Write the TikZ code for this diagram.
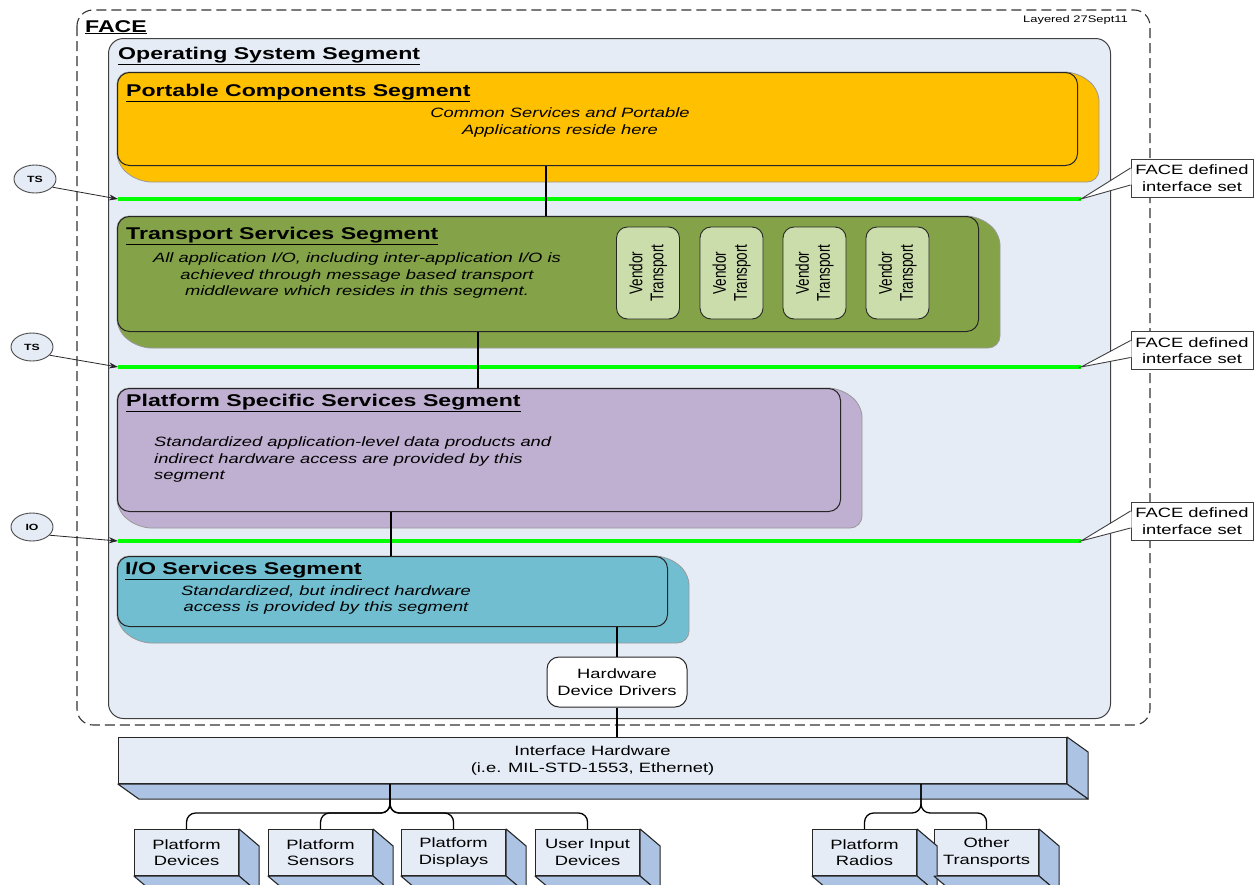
\documentclass[tikz,border=0pt]{standalone}
\usepackage{fontspec}
\setmainfont{Liberation Sans}[FakeStretch=1.36]
\newfontfamily\vfontfam{Liberation Sans}[FakeStretch=0.735]
\usetikzlibrary{arrows.meta,calc,shapes.geometric}
\definecolor{osfill}{RGB}{230,236,246}
\definecolor{orangeseg}{RGB}{255,192,0}
\definecolor{greenseg}{RGB}{132,163,72}
\definecolor{vendfill}{RGB}{204,221,172}
\definecolor{purpseg}{RGB}{191,175,208}
\definecolor{tealseg}{RGB}{113,190,209}
\definecolor{boxfront}{RGB}{229,236,246}
\definecolor{boxside}{RGB}{173,195,227}
\definecolor{ifline}{RGB}{0,255,0}
\newcommand{\mytitle}{\fontsize{17}{20}\selectfont\bfseries}
\newcommand{\mytext}{\fontsize{13.5}{16.5}\selectfont}
\newcommand{\myital}{\fontsize{13.5}{16.5}\selectfont\itshape}
\newcommand{\vendfont}{\vfontfam\fontsize{18.4}{21}\selectfont}
\newcommand{\backshape}[5]{\filldraw[fill=#5, draw=black!40, line width=0.8pt, rounded corners=12pt] (#1,#2) -- (#3,#2) -- (#3+22,#2+17) -- (#3+22,#4+17) -- (#1+22,#4+17) -- (#1,#4) -- cycle;}
\newcommand{\boxfaces}[3]{%
  \filldraw[face3d] (#1.north east) -- ++(#2,#3) -- ($(#1.south east)+(#2,#3)$) -- (#1.south east) -- cycle;
  \filldraw[face3d] (#1.south west) -- (#1.south east) -- ++(#2,#3) -- ($(#1.south west)+(#2,#3)$) -- cycle;}
\begin{document}
\begin{tikzpicture}[x=1pt,y=-1pt,
  seg/.style={draw=black!85, line width=1pt, rounded corners=12pt, anchor=north west, inner sep=0pt},
  ttl/.style={anchor=base west, inner sep=0pt, font=\mytitle},
  itx/.style={inner sep=0pt, font=\myital, align=center},
  vend/.style={draw=black!85, line width=0.9pt, fill=vendfill, rounded corners=11pt, minimum width=92pt, minimum height=63pt, inner sep=0pt, align=center, font=\vendfont, rotate=90},
  conn/.style={draw=black, line width=1.3pt},
  ifl/.style={draw=ifline, line width=4.5pt},
  tsc/.style={ellipse, draw=black!70, line width=0.9pt, fill=osfill, minimum width=42pt, minimum height=28pt, inner sep=0pt, font=\fontsize{9}{10}\selectfont\bfseries},
  tsarrow/.style={-{Stealth[length=9pt,width=6pt]}, line width=0.8pt, draw=black!85},
  callbox/.style={draw=black!75, line width=0.9pt, fill=white, minimum width=122pt, minimum height=38pt, inner sep=0pt, align=center, font=\mytext},
  front/.style={draw=black!85, line width=1.1pt, fill=boxfront, anchor=north west, inner sep=0pt, align=center, font=\mytext},
  face3d/.style={fill=boxside, draw=black!85, line width=1.1pt, line join=round},
]
\useasboundingbox (0,0) rectangle (1257,884);
\fill[white] (0,0) rectangle (1257,884);

% FACE outer
\draw[black!80, line width=1.1pt, dash pattern=on 10pt off 5pt, rounded corners=16pt] (77,10) rectangle (1150,725);
\node[ttl, font=\fontsize{17}{20}\selectfont\bfseries] (facelbl) at (85,32) {\underline{FACE}};
\node[anchor=base east, inner sep=0pt, font=\fontsize{9.5}{11}\selectfont] (lay) at (1128,22) {Layered 27Sept11};

% OS segment
\node[draw=black!75, line width=1pt, fill=osfill, rounded corners=15pt, minimum width=1002pt, minimum height=680pt, anchor=north west, inner sep=0pt] (os) at (108,38) {};
\node[ttl] (ostitle) at (118,59) {\underline{Operating System Segment}};

% Portable components
\backshape{117}{72}{1077}{165}{orangeseg}
\node[seg, fill=orangeseg, minimum width=960pt, minimum height=93pt] (pcs) at (117,72) {};
\node[ttl] (pcst) at (126,96) {\underline{Portable Components Segment}};
\node[itx] (pcsx) at (560,122.5) {Common Services and Portable\\Applications reside here};

% Transport services
\backshape{117}{216}{978}{331}{greenseg}
\node[seg, fill=greenseg, minimum width=861pt, minimum height=115pt] (tss) at (117,216) {};
\node[ttl] (tsst) at (126,239) {\underline{Transport Services Segment}};
\node[itx] (tssx) at (357,276) {All application I/O, including inter-application I/O is\\achieved through message based transport\\middleware which resides in this segment.};
\node[vend] (vt1) at (648,273) {Vendor\\Transport};
\node[vend] (vt2) at (731.5,273) {Vendor\\Transport};
\node[vend] (vt3) at (814.5,273) {Vendor\\Transport};
\node[vend] (vt4) at (897.5,273) {Vendor\\Transport};

% Platform specific services
\backshape{117}{388}{840}{511}{purpseg}
\node[seg, fill=purpseg, minimum width=723pt, minimum height=123pt] (pss) at (117,388) {};
\node[ttl] (psst) at (126,406) {\underline{Platform Specific Services Segment}};
\node[itx, align=left, anchor=west] (pssx) at (154,459.5) {Standardized application-level data products and\\indirect hardware access are provided by this\\segment};

% I/O services
\backshape{117}{556}{667}{626}{tealseg}
\node[seg, fill=tealseg, minimum width=550pt, minimum height=70pt] (ios) at (117,556) {};
\node[ttl] (iost) at (125,574) {\underline{I/O Services Segment}};
\node[itx] (iosx) at (326,600) {Standardized, but indirect hardware\\access is provided by this segment};

% Hardware device drivers
\node[draw=black!85, line width=1pt, fill=white, rounded corners=12pt, minimum width=140pt, minimum height=50pt, inner sep=0pt, align=center, font=\mytext] (hdd) at (617,682) {Hardware\\Device Drivers};

% FACE interface lines
\coordinate (g1s) at (118,199); \coordinate (g1e) at (1081,199);
\coordinate (g2s) at (118,367); \coordinate (g2e) at (1081,367);
\coordinate (g3s) at (118,541); \coordinate (g3e) at (1081,541);
\draw[ifl] (g1s) -- (g1e);
\draw[ifl] (g2s) -- (g2e);
\draw[ifl] (g3s) -- (g3e);

% connectors between segments
\draw[conn] (546,0 |- pcs.south) -- (546,0 |- tss.north);
\draw[conn] (478,0 |- tss.south) -- (478,0 |- pss.north);
\draw[conn] (391,0 |- pss.south) -- (391,0 |- ios.north);
\draw[conn] (617,0 |- ios.south) -- (hdd.north);

% TS / IO markers
\node[tsc] (ts1) at (35,179) {TS};
\node[tsc] (ts2) at (32,347) {TS};
\node[tsc] (io1) at (32,527) {IO};
\draw[tsarrow] (ts1.-25) -- (g1s);
\draw[tsarrow] (ts2.-25) -- (g2s);
\draw[tsarrow] (io1.-25) -- (g3s);

% callouts
\node[callbox] (fd1) at (1192,178) {FACE defined\\interface set};
\node[callbox] (fd2) at (1192,350.5) {FACE defined\\interface set};
\node[callbox] (fd3) at (1192,521) {FACE defined\\interface set};
\foreach \b/\t in {fd1/g1e, fd2/g2e, fd3/g3e}{
  \fill[white] ([shift={(1pt,9.5pt)}]\b.west) -- (\t) -- ([shift={(1pt,-6.5pt)}]\b.west) -- cycle;
  \draw[black!75, line width=0.9pt] ([yshift=10pt]\b.west) -- (\t) -- ([yshift=-7pt]\b.west);
}

% Interface hardware
\node[front, minimum width=948pt, minimum height=46pt] (ih) at (118,737) {};
\boxfaces{ih}{21}{15}
\node[inner sep=0pt, align=center, font=\mytext] (ihx) at (ih.center) {Interface Hardware\\(i.e. MIL-STD-1553, Ethernet)};
\draw[conn] (hdd.south) -- (617,0 |- ih.north);

% devices
\node[front, minimum width=104pt, minimum height=46pt] (dev1) at (134,829) {Platform\\Devices};
\node[front, minimum width=104pt, minimum height=46pt] (dev2) at (268,829) {Platform\\Sensors};
\node[front, minimum width=104pt, minimum height=46pt] (dev3) at (401,829) {Platform\\Displays};
\node[front, minimum width=104pt, minimum height=46pt] (dev4) at (535,829) {User Input\\Devices};
\node[front, minimum width=104pt, minimum height=46pt] (dev5) at (812,829) {Platform\\Radios};
\node[front, minimum width=104pt, minimum height=46pt] (dev6) at (934,829) {Other\\Transports};
\foreach \d in {dev1,dev2,dev3,dev4,dev5,dev6}{\boxfaces{\d}{20}{17}}

% buses
\foreach \d in {dev1,dev2,dev3,dev4}{
  \draw[conn, rounded corners=9pt] (390,0 |- ih.south) -- (390,813) -- (\d.north |- 0,813) -- (\d.north);
}
\foreach \d in {dev5,dev6}{
  \draw[conn, rounded corners=9pt] (921,0 |- ih.south) -- (921,813) -- (\d.north |- 0,813) -- (\d.north);
}
\end{tikzpicture}
\end{document}
